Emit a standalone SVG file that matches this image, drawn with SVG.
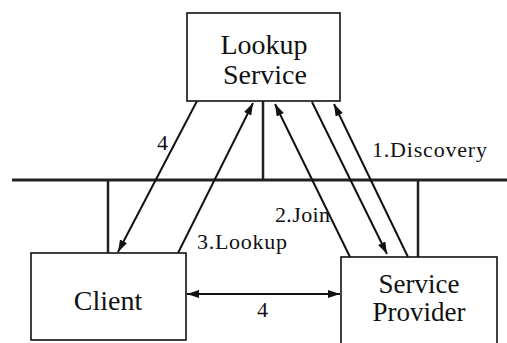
<svg xmlns="http://www.w3.org/2000/svg" width="507" height="343" viewBox="0 0 507 343">
<style>
.box{fill:#fff;stroke:#111;stroke-width:1.6}
.big{font-family:"Liberation Serif","Times New Roman",serif;font-size:28px;fill:#111;text-anchor:middle}
.sp{font-size:27px}
.lbl{font-family:"Liberation Serif","Times New Roman",serif;font-size:22px;fill:#111}
.ln{stroke:#111;stroke-width:2;fill:none}
.bus{stroke:#222;stroke-width:3;fill:none}
.drop{stroke:#222;stroke-width:2.5;fill:none}
</style>
<defs>
<marker id="ah" viewBox="0 0 12 8" refX="12" refY="4" markerWidth="12" markerHeight="8" markerUnits="userSpaceOnUse" orient="auto-start-reverse">
<path d="M0,0 L12,4 L0,8 Z" fill="#111"/>
</marker>
</defs>
<g id="network">
<line class="bus" x1="12" y1="180" x2="507" y2="180"/>
<line class="drop" x1="263" y1="101" x2="263" y2="180"/>
<line class="drop" x1="108" y1="180" x2="108" y2="253"/>
<line class="drop" x1="418" y1="180" x2="418" y2="257"/>
</g>
<g id="lookup">
<rect class="box" x="187" y="13" width="153" height="88"/>
<text class="big" x="264" y="54">Lookup</text>
<text class="big" x="265" y="84">Service</text>
</g>
<g id="client">
<rect class="box" x="31" y="253" width="155" height="87"/>
<text class="big" x="108" y="310">Client</text>
</g>
<g id="provider">
<rect class="box" x="341" y="257" width="156" height="90"/>
<text class="big sp" x="419" y="293">Service</text>
<text class="big sp" x="419" y="321">Provider</text>
</g>
<g id="connectors">
<line class="ln" x1="197" y1="101" x2="118" y2="252" marker-end="url(#ah)"/>
<line class="ln" x1="178" y1="253" x2="253" y2="103" marker-end="url(#ah)"/>
<line class="ln" x1="350" y1="257" x2="275" y2="104" marker-end="url(#ah)"/>
<line class="ln" x1="312" y1="102" x2="387" y2="254" marker-end="url(#ah)"/>
<line class="ln" x1="408" y1="257" x2="334" y2="104" marker-end="url(#ah)"/>
<line class="ln" x1="187" y1="294" x2="340" y2="294" marker-start="url(#ah)" marker-end="url(#ah)"/>
</g>
<g id="labels">
<text class="lbl" x="157" y="150">4</text>
<text class="lbl" x="372" y="157" textLength="115">1.Discovery</text>
<text class="lbl" x="275" y="222" textLength="55">2.Join</text>
<text class="lbl" x="197" y="249" textLength="90">3.Lookup</text>
<text class="lbl" x="257" y="317">4</text>
</g>
</svg>
